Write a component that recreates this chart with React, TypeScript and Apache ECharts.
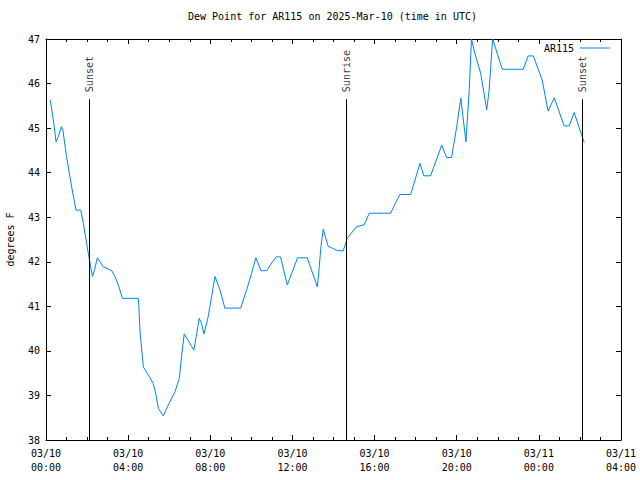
import React, { useEffect, useRef } from "react";
import * as echarts from "echarts";

const titleText = "Dew Point for AR115 on 2025-Mar-10 (time in UTC)";
const seriesName = "AR115";
const yAxisName = "degrees F";

// hours since 03/10 00:00 UTC
const hours = [0.21,0.39,0.49,0.6,0.75,0.82,1.0,1.25,1.46,1.69,1.82,1.98,2.09,2.26,2.36,2.5,2.79,3.2,3.36,3.55,3.72,4.5,4.58,4.74,4.98,5.22,5.34,5.47,5.71,5.95,6.28,6.49,6.6,6.73,7.2,7.34,7.46,7.57,7.69,7.9,8.23,8.47,8.71,9.48,9.77,10.01,10.22,10.47,10.74,11.2,11.42,11.75,12.25,12.72,13.21,13.27,13.39,13.5,13.74,14.15,14.47,14.67,15.13,15.5,15.74,16.78,17.23,17.76,18.21,18.4,18.73,19.27,19.51,19.75,20.0,20.2,20.37,20.45,20.61,20.72,20.88,21.17,21.46,21.58,21.75,22.22,23.24,23.48,23.73,24.16,24.45,24.75,25.23,25.48,25.72,26.08,26.21];
const dewPoint = [45.63,45.07,44.69,44.81,45.03,44.96,44.36,43.68,43.16,43.16,42.86,42.41,42.11,41.67,41.81,42.09,41.89,41.8,41.67,41.44,41.18,41.18,40.43,39.64,39.46,39.27,39.05,38.71,38.54,38.78,39.08,39.38,39.87,40.38,40.02,40.39,40.73,40.62,40.38,40.77,41.67,41.37,40.96,40.96,41.37,41.74,42.09,41.8,41.8,42.11,42.11,41.48,42.09,42.09,41.44,41.7,42.34,42.73,42.35,42.26,42.24,42.53,42.79,42.83,43.09,43.09,43.51,43.51,44.21,43.93,43.93,44.62,44.34,44.34,45.03,45.67,45.0,44.69,45.86,47.0,46.68,46.23,45.41,45.86,47.0,46.32,46.32,46.62,46.62,46.08,45.38,45.68,45.05,45.05,45.35,44.85,44.68];

const eventHours = [2.11, 14.62, 26.13];
const eventNames = ["Sunset", "Sunrise", "Sunset"];
const eventTop = 45.65;

const xMin = 0;
const xMax = 28;
const yMin = 38;
const yMax = 47;

const FONT = "DejaVu Sans Mono";
const LINE_COLOR = "#0080ff";

function fmtX(v: number): string {
  const day = v >= 24 ? "03/11" : "03/10";
  const h = Math.round(v) % 24;
  return day + "\n" + (h < 10 ? "0" + h : "" + h) + ":00";
}

export default function App() {
  const ref = useRef<HTMLDivElement>(null);
  useEffect(() => {
    document.body.style.margin = "0";
    const chart = echarts.init(ref.current!, null, { renderer: "svg" });
    const lineData = hours.map((h, i) => [h, dewPoint[i]]);
    const axisBase = {
      axisLine: { show: true, onZero: false, lineStyle: { color: "#000", width: 1 } },
      splitLine: { show: false },
    };
    chart.setOption({
      animation: false,
      backgroundColor: "#fff",
      title: {
        text: titleText,
        left: 188,
        top: 11,
        padding: 0,
        textStyle: { fontFamily: FONT, fontSize: 10, fontWeight: "normal", color: "#000" },
      },
      legend: {
        data: [{ name: seriesName, icon: "rect" }],
        right: 30,
        top: 43,
        padding: 0,
        align: "right",
        itemWidth: 30,
        itemHeight: 1,
        itemGap: 0,
        textStyle: { fontFamily: FONT, fontSize: 10, color: "#000", padding: [0, 1, 0, 0] },
      },
      grid: { left: 46, right: 19, top: 39, bottom: 40, containLabel: false, outerBoundsMode: "none" },
      xAxis: [
        {
          ...axisBase,
          type: "value",
          min: xMin,
          max: xMax,
          interval: 4,
          position: "bottom",
          axisTick: { show: true, inside: true, length: 5, lineStyle: { color: "#000" } },
          minorTick: { show: true, splitNumber: 4, length: 3, lineStyle: { color: "#000" } },
          axisLabel: {
            formatter: fmtX,
            fontFamily: FONT,
            fontSize: 10,
            color: "#000",
            lineHeight: 14,
            margin: 6,
          },
        },
        {
          ...axisBase,
          type: "value",
          min: xMin,
          max: xMax,
          interval: 4,
          position: "top",
          axisTick: { show: true, inside: true, length: 5, lineStyle: { color: "#000" } },
          minorTick: { show: true, splitNumber: 4, length: 3, lineStyle: { color: "#000" } },
          axisLabel: { show: false },
        },
      ],
      yAxis: [
        {
          ...axisBase,
          type: "value",
          min: yMin,
          max: yMax,
          interval: 1,
          position: "left",
          name: yAxisName,
          nameLocation: "middle",
          nameGap: 31,
          nameTextStyle: { fontFamily: FONT, fontSize: 10, color: "#000" },
          axisTick: { show: true, inside: true, length: 5, lineStyle: { color: "#000" } },
          axisLabel: { fontFamily: FONT, fontSize: 10, color: "#000", margin: 6 },
        },
        {
          ...axisBase,
          type: "value",
          min: yMin,
          max: yMax,
          interval: 1,
          position: "right",
          axisTick: { show: true, inside: true, length: 5, lineStyle: { color: "#000" } },
          axisLabel: { show: false },
        },
      ],
      series: [
        {
          name: seriesName,
          type: "line",
          data: lineData,
          showSymbol: false,
          symbol: "none",
          clip: true,
          color: LINE_COLOR,
          lineStyle: { color: LINE_COLOR, width: 1 },
          markLine: {
            silent: true,
            symbol: "none",
            label: { show: false },
            lineStyle: { color: "#000", width: 1, type: "solid" },
            data: eventHours.map((h) => [
              { coord: [h, yMin] },
              { coord: [h, eventTop] },
            ]),
          },
        },
        {
          name: "events",
          type: "scatter",
          symbolSize: 0,
          silent: true,
          data: eventHours.map((h, i) => [h, eventTop, eventNames[i]]),
          label: {
            show: true,
            position: "top",
            distance: 7,
            rotate: 90,
            align: "left",
            verticalAlign: "middle",
            formatter: (p: any) => p.data[2],
            fontFamily: FONT,
            fontSize: 10,
            color: "#000",
          },
        },
      ],
    });
    return () => chart.dispose();
  }, []);
  return <div ref={ref} style={{ width: 640, height: 480 }} />;
}
